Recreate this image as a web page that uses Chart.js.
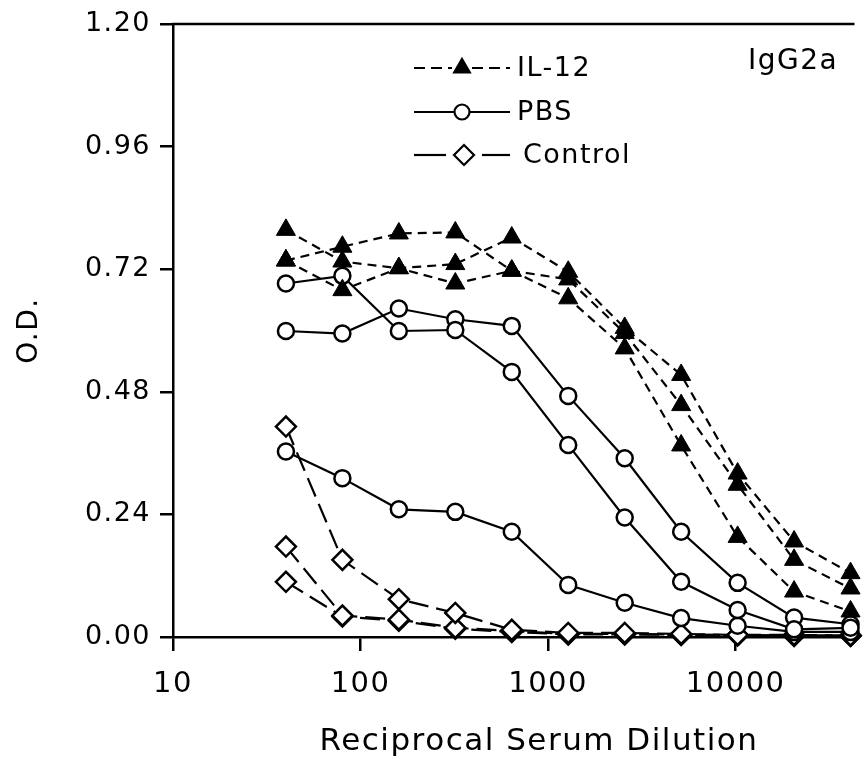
<!DOCTYPE html>
<html><head><meta charset="utf-8">
<script src="https://cdn.jsdelivr.net/npm/chart.js@4"></script>
<style>html,body{margin:0;padding:0;background:#fff;overflow:hidden;}canvas{display:block;}</style>
</head><body><canvas id="c" width="867" height="759"></canvas>
<script>
const dilutions = [40, 80, 160, 320, 640, 1280, 2560, 5120, 10240, 20480, 40960];
const xTickValues = [10, 100, 1000, 10000];
const yTickValues = [0, 0.24, 0.48, 0.72, 0.96, 1.20];
const il12_1 = [0.737, 0.764, 0.790, 0.792, 0.717, 0.700, 0.595, 0.454, 0.298, 0.151, 0.095];
const il12_2 = [0.797, 0.735, 0.722, 0.730, 0.782, 0.715, 0.605, 0.513, 0.320, 0.187, 0.125];
const il12_3 = [0.737, 0.679, 0.722, 0.692, 0.717, 0.663, 0.565, 0.375, 0.196, 0.089, 0.050];
const pbs_1 = [0.692, 0.707, 0.599, 0.601, 0.519, 0.376, 0.234, 0.108, 0.053, 0.015, 0.018];
const pbs_2 = [0.599, 0.594, 0.643, 0.622, 0.609, 0.472, 0.350, 0.206, 0.106, 0.038, 0.025];
const pbs_3 = [0.363, 0.311, 0.250, 0.245, 0.206, 0.102, 0.067, 0.037, 0.022, 0.010, 0.010];
const ctl_1 = [0.412, 0.151, 0.074, 0.047, 0.014, 0.008, 0.008, 0.006, 0.004, 0.004, 0.003];
const ctl_2 = [0.177, 0.042, 0.034, 0.018, 0.012, 0.006, 0.006, 0.005, 0.004, 0.003, 0.003];
const ctl_3 = [0.108, 0.040, 0.032, 0.016, 0.010, 0.005, 0.005, 0.004, 0.003, 0.002, 0.002];
const legendLabels = ['IL-12', 'PBS', 'Control'];
const panelLabel = 'IgG2a';
const xTitle = 'Reciprocal Serum Dilution';
const yTitle = 'O.D.';

const FAM = '"DejaVu Sans", sans-serif';
const toPts = arr => arr.map((v, i) => ({x: dilutions[i], y: v}));

const styleIL = {borderDash: [9, 6], pointStyle: 'triangle', pointRadius: 11, pointBackgroundColor: '#000', pointBorderWidth: 1};
const stylePBS = {borderDash: [], pointStyle: 'circle', pointRadius: 8, pointBackgroundColor: '#fff', pointBorderWidth: 2.5};
const styleCtl = {borderDash: [20, 8], pointStyle: 'rectRot', pointRadius: 10, pointBackgroundColor: '#fff', pointBorderWidth: 2.5};

function ds(label, arr, st) {
  return Object.assign({
    label: label, data: toPts(arr), borderColor: '#000', borderWidth: 2.2,
    pointBorderColor: '#000', tension: 0, fill: false, clip: false,
    pointHoverRadius: st.pointRadius
  }, st);
}

const datasets = [
  ds('IL-12', il12_1, styleIL), ds('IL-12', il12_2, styleIL), ds('IL-12', il12_3, styleIL),
  ds('PBS', pbs_1, stylePBS), ds('PBS', pbs_2, stylePBS), ds('PBS', pbs_3, stylePBS),
  ds('Control', ctl_1, styleCtl), ds('Control', ctl_2, styleCtl), ds('Control', ctl_3, styleCtl)
];

const decor = {
  id: 'decor',
  beforeDraw(chart) { chart.ctx.letterSpacing = '1.5px'; },
  afterDraw(chart) {
    const {ctx, chartArea: a} = chart;
    ctx.save();
    ctx.strokeStyle = '#000';
    ctx.fillStyle = '#000';
    ctx.lineWidth = 2.5;
    ctx.setLineDash([]);
    ctx.beginPath(); ctx.moveTo(a.left - 1, a.top); ctx.lineTo(a.right, a.top); ctx.stroke();

    const rows = [
      {y: 68, dash: [11, 6], l1: [414, 452], l2: [472, 510], mx: 462, style: 'triangle', r: 9, fill: '#000', tx: 517},
      {y: 112, dash: [], l1: [414, 455], l2: [469, 510], mx: 462, style: 'circle', r: 7.5, fill: '#fff', tx: 517},
      {y: 155, dash: [], l1: [414, 446], l2: [482, 510], mx: 464, style: 'rectRot', r: 10, fill: '#fff', tx: 523}
    ];
    ctx.font = '27px ' + FAM;
    ctx.textBaseline = 'middle';
    ctx.textAlign = 'left';
    rows.forEach((r, i) => {
      ctx.lineWidth = 2.2;
      ctx.setLineDash(r.dash);
      ctx.beginPath(); ctx.moveTo(r.l1[0], r.y); ctx.lineTo(r.l1[1], r.y); ctx.stroke();
      ctx.beginPath(); ctx.moveTo(r.l2[0], r.y); ctx.lineTo(r.l2[1], r.y); ctx.stroke();
      ctx.setLineDash([]);
      ctx.fillStyle = r.fill;
      Chart.helpers.drawPoint(ctx, {pointStyle: r.style, radius: r.r, borderWidth: 2.2, rotation: 0}, r.mx, r.y);
      ctx.fillStyle = '#000';
      ctx.fillText(legendLabels[i], r.tx, r.y + 1);
    });
    ctx.font = '28px ' + FAM;
    ctx.fillText(panelLabel, 748, 62);
    ctx.font = '31px ' + FAM;
    ctx.textAlign = 'center';
    ctx.fillText(xTitle, 539, 742);
    ctx.restore();
  }
};

new Chart(document.getElementById('c'), {
  type: 'line',
  data: {datasets: datasets},
  plugins: [decor],
  options: {
    responsive: false, animation: false,
    layout: {padding: {top: 24, right: 0, left: 0, bottom: 0}},
    plugins: {legend: {display: false}, tooltip: {enabled: false}},
    scales: {
      x: {
        type: 'logarithmic', min: 10, max: 43000, position: 'bottom',
        afterBuildTicks: s => { s.ticks = xTickValues.map(v => ({value: v})); },
        afterFit: s => { s.height = 122; s.paddingRight = 0; s.paddingLeft = 0; },
        border: {display: true, color: '#000', width: 2.5},
        grid: {display: true, drawOnChartArea: false, drawTicks: true, tickLength: 14, color: '#000', lineWidth: 2.5},
        ticks: {color: '#000', font: {family: FAM, size: 29}, padding: 16, maxRotation: 0, autoSkip: false,
                callback: v => String(v)},
        title: {display: false}
      },
      y: {
        type: 'linear', min: 0, max: 1.2, position: 'left',
        afterBuildTicks: s => { s.ticks = yTickValues.map(v => ({value: v})); },
        afterFit: s => { s.width = 173; s.paddingTop = 0; s.paddingBottom = 0; },
        border: {display: true, color: '#000', width: 2.5},
        grid: {display: true, drawOnChartArea: false, drawTicks: true, tickLength: 13, color: '#000', lineWidth: 2.5},
        ticks: {color: '#000', font: {family: FAM, size: 27}, padding: 9, callback: v => v.toFixed(2)},
        title: {display: true, text: yTitle, color: '#000', font: {family: FAM, size: 28}, padding: {top: 13, bottom: 0}}
      }
    }
  }
});
</script>
</body></html>
